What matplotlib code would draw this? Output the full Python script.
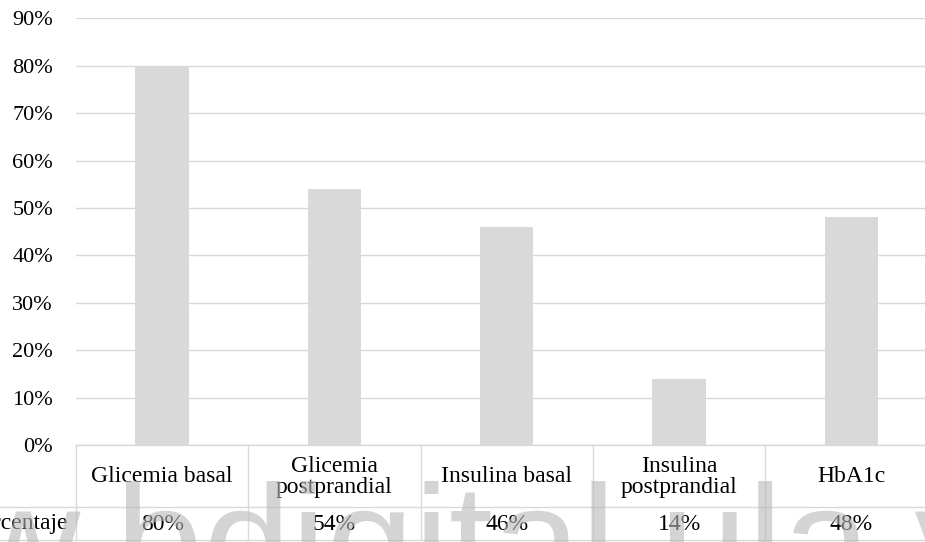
import matplotlib
matplotlib.use('Agg')
import matplotlib.pyplot as plt
from matplotlib.transforms import blended_transform_factory

categories = ["Glicemia basal", "Glicemia\npostprandial", "Insulina basal",
              "Insulina\npostprandial", "HbA1c"]
values = [80, 54, 46, 14, 48]
row_label = "Porcentaje"
value_labels = ["80%", "54%", "46%", "14%", "48%"]
yticks = [0, 10, 20, 30, 40, 50, 60, 70, 80, 90]
ytick_labels = ["0%", "10%", "20%", "30%", "40%", "50%", "60%", "70%", "80%", "90%"]
watermark = "www.bdigital.ula.ve"

plt.rcParams['font.family'] = ['Liberation Serif', 'DejaVu Serif']

W, H = 925, 542
fig = plt.figure(figsize=(W / 100, H / 100), dpi=100)
ax_left, ax_bottom_px, ax_top_px = 76, 445, 18.3
col_w = 172.3
ax_h_px = ax_bottom_px - ax_top_px
ax = fig.add_axes([ax_left / W, (H - ax_bottom_px) / H, 5 * col_w / W, ax_h_px / H])

x = list(range(len(values)))
ax.bar(x, values, width=0.31, color='#d9d9d9', zorder=2)
ax.set_xlim(-0.5, len(values) - 0.5)
ax.set_ylim(0, 90)
ax.set_yticks(yticks)
ax.set_yticklabels(ytick_labels, fontsize=16, color='black')
ax.tick_params(axis='y', length=0, pad=16.6)
ax.set_xticks([])
for s in ax.spines.values():
    s.set_visible(False)
ax.yaxis.grid(True, color='#d9d9d9', linewidth=1.0, zorder=0)
ax.set_axisbelow(True)

tr = blended_transform_factory(ax.transData, ax.transAxes)
def ay(px):
    return -(px - ax_bottom_px) / ax_h_px

line_kw = dict(color='#d9d9d9', linewidth=1.0, clip_on=False, transform=tr)
ax.plot([-0.5, len(values) - 0.5], [0, 0], **line_kw)
r1, r2 = ay(506.5), ay(540)
for yy in (r1, r2):
    ax.plot([-2.0, len(values) - 0.5], [yy, yy], **line_kw)
for b in range(len(values) + 1):
    ax.plot([b - 0.5, b - 0.5], [0, r2], **line_kw)

for i, (c, v) in enumerate(zip(categories, value_labels)):
    ax.text(i, ay(477), c, ha='center', va='center', fontsize=17,
            linespacing=1.05, transform=tr, clip_on=False)
    ax.text(i, ay(524), v, ha='center', va='center', fontsize=17,
            transform=tr, clip_on=False)
ax.text(-0.5 - 8 / col_w, ay(524), row_label, ha='right', va='center',
        fontsize=17, transform=tr, clip_on=False)

fig.text(-262 / W, -53 / H, watermark, family=['Liberation Sans', 'DejaVu Sans'],
         fontsize=113.8, color='#b8b8b8', alpha=0.6, ha='left', va='baseline',
         zorder=10)

fig.savefig('out.png', dpi=100)
